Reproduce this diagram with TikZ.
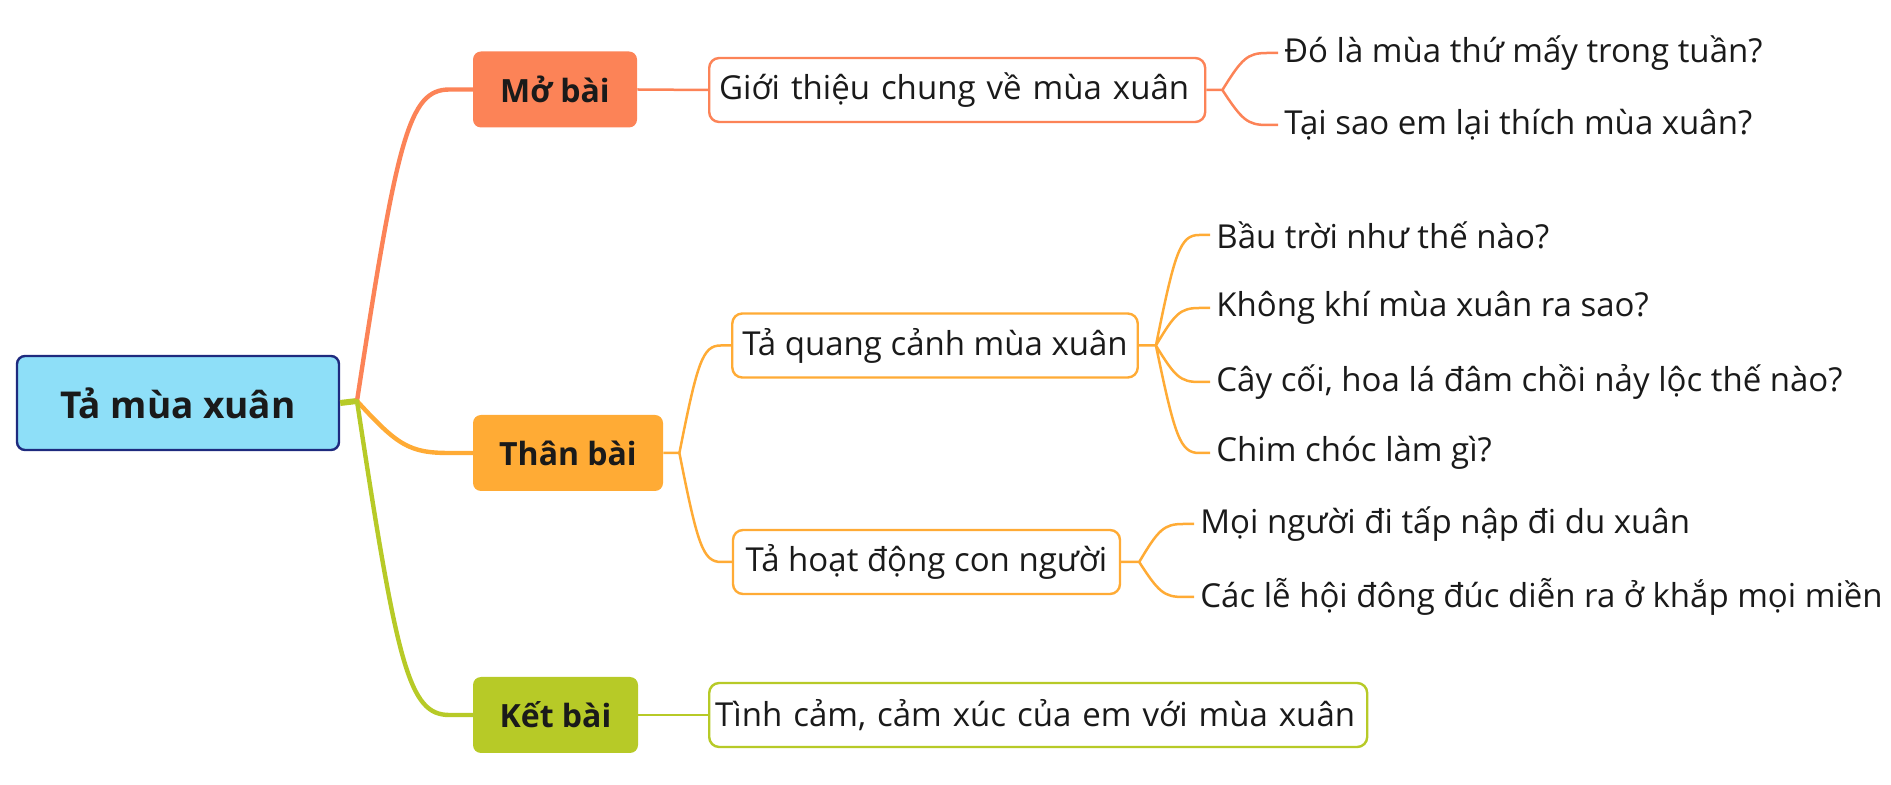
\documentclass[tikz,border=0pt]{standalone}
\usepackage{fontspec}
\setmainfont{Open Sans}
\usetikzlibrary{calc,positioning}
\definecolor{rootfill}{HTML}{8EDFF8}
\definecolor{rootline}{HTML}{1E2A7E}
\definecolor{mocolor}{HTML}{FC8357}
\definecolor{thancolor}{HTML}{FFAB35}
\definecolor{ketcolor}{HTML}{B7CA27}
\definecolor{ink}{HTML}{1A1A1A}
\tikzset{
        root/.style = {draw=rootline, fill=rootfill, line width=1.2pt,
            rounded corners=4pt, minimum width=161pt, minimum height=47pt,
            text=ink, font=\bfseries\fontsize{18.5}{22}\selectfont},
        part/.style = {rounded corners=4pt, minimum height=38pt,
            text=ink, font=\bfseries\fontsize{16}{20}\selectfont},
        idea/.style = {draw, fill=white, line width=1.2pt, rounded corners=5pt,
            minimum height=32pt, inner xsep=5pt,
            text=ink, font=\fontsize{16.5}{20}\selectfont},
        leaf/.style = {anchor=west, inner xsep=3pt,
            text=ink, font=\fontsize{16.5}{20}\selectfont},
        branch/.style = {line width=2.2pt, line cap=round},
        twig/.style = {line width=1.25pt},
        curvy/.style = {to path={let \p1=(\tikztostart), \p2=(\tikztotarget) in
            .. controls (\x1+0.35*\x2-0.35*\x1, \y1+0.85*\y2-0.85*\y1)
            and (\x1+0.45*\x2-0.45*\x1, \y2) .. (\x1+0.8*\x2-0.8*\x1, \y2)
            -- (\tikztotarget)}},
    }

\begin{document}
\begin{tikzpicture}[x=0.5pt,y=-0.5pt]
    \useasboundingbox (0,0) rectangle (1891,785);

    % root and the three parts
    \node[root] (root) at (178,403) {Tả mùa xuân};
    \coordinate (hub) at (357,401);

    \node[part, fill=mocolor, minimum width=82pt] (mo) at (555,89.5) {Mở bài};
    \node[part, fill=thancolor, minimum width=95pt] (than) at (568,453) {Thân bài};
    \node[part, fill=ketcolor, minimum width=82.5pt] (ket) at (555.5,715) {Kết bài};

    \draw[branch, ketcolor, line width=3pt, line cap=butt] (root.east) -- (hub);
    \draw[branch, mocolor] (hub) to[curvy] (mo.west);
    \draw[branch, thancolor] (hub) to[curvy] (than.west);
    \draw[branch, ketcolor] (hub) to[curvy] (ket.west);

    % mo bai
    \node[idea, draw=mocolor, anchor=west, text width=238pt, align=left] (gioithieu) at (708,90) {Giới thiệu chung về mùa xuân};
    \coordinate[right=8pt of gioithieu.east] (gfork);
    \node[leaf] (dola) at (1278,53) {Đó là mùa thứ mấy trong tuần?};
    \node[leaf] (taisao) at (1278,125) {Tại sao em lại thích mùa xuân?};
    \draw[twig, mocolor] (mo.east) -- (gioithieu.west);
    \draw[twig, mocolor] (gioithieu.east) -- (gfork) to[curvy] (dola.west)
        (gfork) to[curvy] (taisao.west);

    % than bai
    \node[idea, draw=thancolor, minimum width=202pt, align=center] (quangcanh) at (935,345.5) {Tả quang cảnh mùa xuân};
    \node[idea, draw=thancolor, minimum width=193.5pt, align=center] (hoatdong) at (926.5,562) {Tả hoạt động con người};
    \coordinate[right=8pt of than.east] (tfork);
    \draw[twig, thancolor] (than.east) -- (tfork) to[curvy] (quangcanh.west)
        (tfork) to[curvy] (hoatdong.west);

    \node[leaf] (bautroi) at (1210,235) {Bầu trời như thế nào?};
    \node[leaf] (khongkhi) at (1210,308) {Không khí mùa xuân ra sao?};
    \node[leaf] (caycoi) at (1210,382) {Cây cối, hoa lá đâm chồi nảy lộc thế nào?};
    \node[leaf] (chim) at (1210,453) {Chim chóc làm gì?};
    \coordinate[right=8.5pt of quangcanh.east] (qfork);
    \draw[twig, thancolor] (quangcanh.east) -- (qfork)
        (qfork) to[curvy] (bautroi.west)
        (qfork) to[curvy] (khongkhi.west)
        (qfork) to[curvy] (caycoi.west)
        (qfork) to[curvy] (chim.west);

    \node[leaf] (moinguoi) at (1194,524) {Mọi người đi tấp nập đi du xuân};
    \node[leaf] (lehoi) at (1194,597) {Các lễ hội đông đúc diễn ra ở khắp mọi miền};
    \coordinate[right=9pt of hoatdong.east] (hfork);
    \draw[twig, thancolor] (hoatdong.east) -- (hfork)
        (hfork) to[curvy] (moinguoi.west)
        (hfork) to[curvy] (lehoi.west);

    % ket bai
    \node[idea, draw=ketcolor, anchor=west, inner xsep=3pt, text width=323pt, align=left] (tinhcam) at (708,715) {Tình cảm, cảm xúc của em với mùa xuân};
    \draw[twig, ketcolor] (ket.east) -- (tinhcam.west);
\end{tikzpicture}
\end{document}
